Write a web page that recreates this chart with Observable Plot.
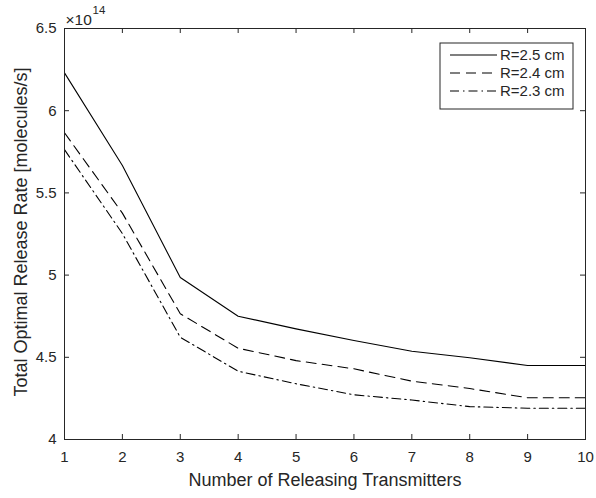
<!DOCTYPE html>
<html><head><meta charset="utf-8">
<script src="https://cdn.jsdelivr.net/npm/d3@7"></script>
<script src="https://cdn.jsdelivr.net/npm/@observablehq/plot@0.6"></script>
<style>body{margin:0;background:#fff} svg{display:block}</style>
</head><body><div id="chart"></div><script>
// ---- data ----
const transmitters = [1, 2, 3, 4, 5, 6, 7, 8, 9, 10];
const seriesNames = ["R=2.5 cm", "R=2.4 cm", "R=2.3 cm"];
const rate25 = [6.23, 5.667, 4.985, 4.75, 4.673, 4.602, 4.537, 4.497, 4.45, 4.45];
const rate24 = [5.866, 5.377, 4.765, 4.555, 4.48, 4.43, 4.355, 4.31, 4.254, 4.254];
const rate23 = [5.763, 5.253, 4.622, 4.415, 4.339, 4.272, 4.24, 4.20, 4.19, 4.19];
const xTicks = [1, 2, 3, 4, 5, 6, 7, 8, 9, 10];
const yTicks = [4, 4.5, 5, 5.5, 6, 6.5];
const xLabel = "Number of Releasing Transmitters";
const yLabel = "Total Optimal Release Rate [molecules/s]";
const exponentBase = "×10";
const exponentPower = "14";

// ---- layout ----
const W = 596, H = 498, mL = 64, mR = 11, mT = 28, mB = 59;
const pw = W - mL - mR, ph = H - mT - mB;
const ink = "#262626";
const font = "'Liberation Sans', Arial, Helvetica, sans-serif";
const dashes = [null, "10,6", "9,4,1.5,4"];
const allRates = [rate25, rate24, rate23];
const rows = seriesNames.map((name, i) => transmitters.map((t, j) => ({t, v: allRates[i][j], name})));
const tick = 5;

const plot = Plot.plot({
  width: W, height: H,
  marginLeft: mL, marginRight: mR, marginTop: mT, marginBottom: mB,
  style: {fontFamily: font, fontSize: "15px", color: ink, background: "#fff", overflow: "visible"},
  x: {domain: [1, 10]},
  y: {domain: [4, 6.5]},
  marks: [
    Plot.axisX(xTicks, {tickSize: 0, tickPadding: 12, label: null, fontSize: 15, fill: ink, tickFormat: d => String(d)}),
    Plot.axisY(yTicks, {tickSize: 0, tickPadding: 8, label: null, fontSize: 15, fill: ink, tickFormat: d => String(d)}),
    Plot.tickX(xTicks, {x: d => d, insetTop: ph - tick, stroke: ink}),
    Plot.tickX(xTicks, {x: d => d, insetBottom: ph - tick, stroke: ink}),
    Plot.tickY(yTicks, {y: d => d, insetRight: pw - tick, stroke: ink}),
    Plot.tickY(yTicks, {y: d => d, insetLeft: pw - tick, stroke: ink}),
    ...rows.map((r, i) => Plot.line(r, {x: "t", y: "v", stroke: "#000", strokeWidth: 1.1, strokeDasharray: dashes[i]})),
    Plot.frame({stroke: ink, strokeWidth: 1}),
    Plot.text([xLabel], {text: d => d, frameAnchor: "bottom", textAnchor: "middle", dy: 46, fontSize: 18, fill: ink}),
    Plot.text([yLabel], {text: d => d, frameAnchor: "left", textAnchor: "middle", rotate: -90, dx: -43, dy: -2, fontSize: 18, fill: ink}),
    Plot.text([exponentBase], {text: d => d, frameAnchor: "top-left", textAnchor: "start", lineAnchor: "bottom", dx: 1, dy: -4, fontSize: 15.5, fill: ink}),
    Plot.text([exponentPower], {text: d => d, frameAnchor: "top-left", textAnchor: "start", lineAnchor: "bottom", dx: 28, dy: -15, fontSize: 11.5, fill: ink})
  ]
});
document.getElementById("chart").appendChild(plot);

// ---- legend (MATLAB-style box, top-right inside the axes) ----
const svg = d3.select(plot);
const bw = 133, bh = 66;
const bx = W - mR - 12 - bw, by = mT + 15;
const lg = svg.append("g").attr("font-family", font).attr("font-size", 15).attr("fill", ink).attr("text-anchor", "start");
lg.append("rect").attr("x", bx).attr("y", by).attr("width", bw).attr("height", bh)
  .attr("fill", "#fff").attr("stroke", ink).attr("stroke-width", 1);
seriesNames.forEach((name, i) => {
  const cy = by + 12 + i * 18;
  lg.append("line").attr("x1", bx + 10).attr("x2", bx + 57).attr("y1", cy).attr("y2", cy)
    .attr("stroke", "#000").attr("stroke-width", 1.1).attr("stroke-dasharray", dashes[i]);
  lg.append("text").attr("x", bx + 60).attr("y", cy).attr("dy", "0.35em").attr("text-anchor", "start").text(name);
});
</script></body></html>
